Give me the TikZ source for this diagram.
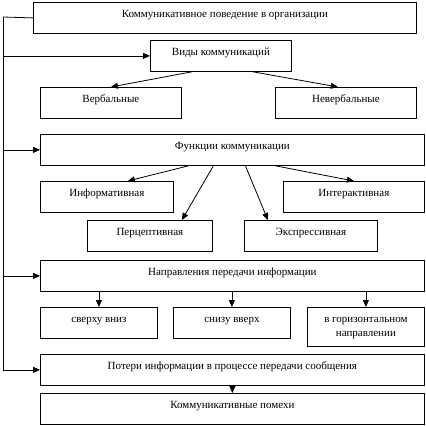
\documentclass[tikz,border=0pt]{standalone}
\usepackage{fontspec}
\setmainfont{Liberation Serif}
\usetikzlibrary{arrows.meta}

\begin{document}
\begin{tikzpicture}[
  x=1pt,y=-1pt,
  font=\fontsize{11}{14}\selectfont,
  box/.style={draw,line width=.8pt,anchor=north west,align=center,inner xsep=2pt,inner ysep=3pt,text height=12pt,text depth=13pt},
  arr/.style={line width=.8pt,-{Triangle[length=7pt,width=6pt]}}
]
  \useasboundingbox (0,0) rectangle (426,426);

  \node[box,minimum width=383pt] (org) at (33,2) {Коммуникативное поведение в организации};

  \node[box,minimum width=141pt] (kinds) at (150,40) {Виды коммуникаций};
  \node[box,minimum width=141pt] (verb) at (40,87) {Вербальные};
  \node[box,minimum width=141pt] (nonverb) at (275,87) {Невербальные};

  \node[box,minimum width=384pt] (func) at (40,134) {Функции коммуникации};
  \node[box,minimum width=133pt] (inform) at (40,181) {Информативная};
  \node[box,minimum width=141pt] (interact) at (283,181) {Интерактивная};
  \node[box,minimum width=125pt] (percept) at (87,220) {Перцептивная};
  \node[box,minimum width=133pt] (express) at (244,220) {Экспрессивная};

  \node[box,minimum width=384pt] (dir) at (40,260) {Направления передачи информации};
  \node[box,minimum width=117pt] (down) at (40,307) {сверху вниз};
  \node[box,minimum width=117pt] (up) at (173,307) {снизу вверх};
  \node[box,minimum width=117pt,text height=26pt,text depth=7pt] (horiz) at (307,307) {в горизонтальном\\направлении};

  \node[box,minimum width=384pt] (loss) at (40,354) {Потери информации в процессе передачи сообщения};
  \node[box,minimum width=384pt] (noise) at (40,393) {Коммуникативные помехи};

  % left trunk
  \coordinate (trunk) at (3,17);
  \draw[line width=.8pt] (org.west) -- (trunk);
  \draw[arr] (trunk) |- (loss.west);
  \draw[arr] (trunk |- kinds.west) -- (kinds.west);
  \draw[arr] (trunk |- func.west) -- (func.west);
  \draw[arr] (trunk |- dir.west) -- (dir.west);

  \draw[arr] ([xshift=-29pt]kinds.south) -- (verb.north);
  \draw[arr] ([xshift=32pt]kinds.south) -- ([xshift=-8pt]nonverb.north);

  \draw[arr] ([xshift=-44pt]func.south) -- ([xshift=21pt]inform.north);
  \draw[arr] ([xshift=-19pt]func.south) -- ([xshift=32pt]percept.north);
  \draw[arr] ([xshift=13pt]func.south) -- ([xshift=-43pt]express.north);
  \draw[arr] ([xshift=43pt]func.south) -- (interact.north);

  \draw[arr] (dir.south -| down.north) -- (down.north);
  \draw[arr] (dir.south -| up.north) -- (up.north);
  \draw[arr] (dir.south -| horiz.north) -- (horiz.north);

  \draw[arr] (loss.south) -- (noise.north);
\end{tikzpicture}
\end{document}
